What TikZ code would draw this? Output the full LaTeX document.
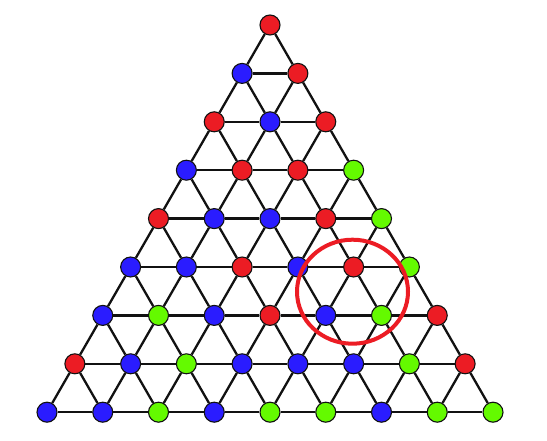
\documentclass[tikz,border=0pt]{standalone}
\usetikzlibrary{calc,shapes.geometric}
\definecolor{vr}{HTML}{EC1C24}
\definecolor{vb}{HTML}{2A1CFF}
\definecolor{vg}{HTML}{64FA00}
\definecolor{edgec}{HTML}{111111}
\tikzset{
  vtx/.style={circle, draw=edgec, line width=1.1pt, minimum size=20pt, inner sep=0pt},
  vr/.style={vtx, fill=vr},
  vb/.style={vtx, fill=vb},
  vg/.style={vtx, fill=vg},
  edge/.style={draw=edgec, line width=2.3pt},
  ring/.style={ellipse, draw=vr, line width=4pt, minimum width=111pt, minimum height=104pt, inner sep=0pt}
}
\begin{document}
\begin{tikzpicture}[x=1pt,y=-1pt]
\useasboundingbox (0,0) rectangle (547,441);
\foreach \i/\cols in {0/{r},1/{b,r},2/{r,b,r},3/{b,r,r,g},4/{r,b,b,r,g},5/{b,b,r,b,r,g},6/{b,g,b,r,b,g,r},7/{r,b,g,b,b,b,g,r},8/{b,b,g,b,g,g,b,g,g}}{
  \foreach \c [count=\jj from 0] in \cols {
    \node[v\c] (n-\i-\jj) at ({270+(\jj-\i/2)*55.75},{25+\i*48.4}) {};
  }
}
\foreach \i in {0,...,7}{
  \pgfmathtruncatemacro{\ni}{\i+1}
  \foreach \j in {0,...,\i}{
    \pgfmathtruncatemacro{\nj}{\j+1}
    \draw[edge] (n-\i-\j) -- (n-\ni-\j);
    \draw[edge] (n-\i-\j) -- (n-\ni-\nj);
    \draw[edge] (n-\ni-\j) -- (n-\ni-\nj);
  }
}
\node[ring] (circ) at (352.5,291.7) {};
\end{tikzpicture}
\end{document}
